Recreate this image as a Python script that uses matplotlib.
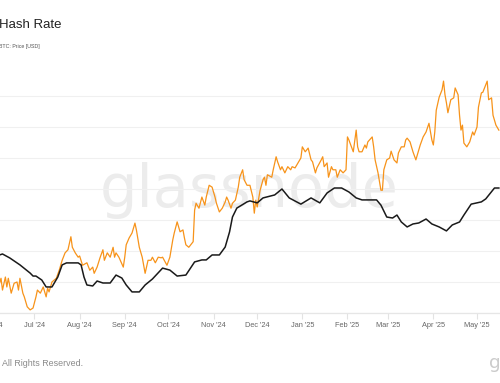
import numpy as np
import pandas as pd
import matplotlib
matplotlib.use('Agg')
import matplotlib.pyplot as plt
import matplotlib.dates as mdates

# days are counted from this date
start = pd.Timestamp('2024-06-07')

# BTC price (black, smoothed)
price_days = [0, 2, 7, 14, 21, 23, 25, 29, 32, 36,
              40, 43, 46, 54, 56, 58, 60, 64, 67, 71,
              76, 80, 84, 87, 91, 96, 100, 105, 112, 117,
              122, 128, 134, 139, 142, 146, 151, 155, 158, 160,
              163, 170, 172, 177, 181, 189, 194, 199, 207, 214,
              220, 225, 230, 235, 240, 245, 249, 259, 262, 266,
              270, 273, 276, 280, 284, 288, 293, 297, 302, 307,
              311, 316, 319, 324, 331, 334, 340, 343]
price_usd = [68400, 68800, 67200, 64400, 61100, 59900, 59900, 58300, 55500, 55500,
             59500, 64400, 65200, 65200, 64400, 59500, 56300, 55900, 57900, 57100,
             57100, 60300, 59100, 56300, 53500, 53500, 56300, 58700, 63100, 62300,
             59900, 60300, 65600, 66400, 66400, 68400, 68400, 71600, 77700, 83700,
             87300, 89800, 90200, 89400, 91400, 92600, 95000, 91400, 88900, 91400,
             89400, 93400, 95400, 95400, 93800, 91400, 90600, 90600, 88500, 83700,
             83300, 84500, 81700, 79700, 80900, 81300, 82900, 80900, 79700, 78100,
             80500, 81700, 84500, 88900, 89800, 91000, 95400, 95400]

# hash rate (orange)
hash_days = [0, 1, 2, 4, 5, 6, 8, 10, 12, 13,
             14, 16, 17, 19, 21, 23, 25, 26, 28, 30,
             32, 33, 34, 36, 39, 41, 43, 45, 47, 49,
             50, 52, 54, 55, 57, 60, 62, 64, 65, 67,
             69, 71, 72, 74, 76, 78, 79, 80, 82, 85,
             86, 87, 89, 91, 93, 94, 96, 98, 100, 102,
             104, 105, 107, 109, 111, 112, 115, 117, 119, 120,
             122, 124, 126, 127, 128, 130, 133, 134, 135, 137,
             139, 141, 142, 144, 146, 148, 149, 151, 153, 155,
             156, 157, 159, 160, 162, 164, 165, 167, 168, 170,
             172,
             174, 175, 176, 177, 179, 181, 182, 183, 184, 187,
             188, 190, 191, 193, 194, 196, 198, 200, 201, 203,
             205, 207, 208, 210, 212, 214, 215, 217, 218, 221,
             222, 223, 225, 226, 228, 229, 231, 232, 234, 236,
             238, 239, 240, 242, 243, 245, 246, 247, 249, 251,
             252, 253, 256, 257, 258, 260, 262, 263, 264, 266,
             268, 269, 271, 273, 274, 276, 278, 279, 280, 282,
             284, 286, 287, 289, 291, 293, 295, 297, 298, 299,
             300, 302, 304, 305, 306, 307, 308, 310, 312, 313,
             315, 316, 317, 318, 319, 321, 323, 325, 326, 328,
             329, 331, 332, 335, 336, 338, 339, 341, 343]
hash_rate = [598, 606, 587, 608, 592, 606, 582, 598, 600, 587,
             606, 582, 576, 560, 555, 558, 576, 587, 582, 592,
             576, 590, 584, 600, 606, 619, 635, 647, 652, 673,
             656, 647, 640, 642, 627, 631, 619, 624, 614, 624,
             639, 652, 635, 647, 640, 656, 640, 647, 640, 624,
             640, 660, 671, 679, 695, 684, 656, 640, 614, 635,
             635, 640, 631, 640, 639, 640, 627, 640, 668, 679,
             697, 681, 684, 671, 660, 656, 665, 716, 727, 719,
             737, 724, 737, 756, 753, 737, 727, 713, 719, 729,
             737, 732, 719, 727, 732, 753, 769, 781, 765, 756,
             756,
             737, 711, 732, 721, 748, 765, 769, 756, 773, 769,
             781, 802, 794, 781, 786, 776, 786, 781, 786, 784,
             792, 800, 818, 810, 816, 797, 794, 776, 784, 797,
             802, 786, 792, 769, 786, 781, 781, 769, 781, 776,
             781, 834, 829, 816, 810, 845, 818, 810, 810, 821,
             816, 826, 834, 818, 797, 776, 748, 748, 781, 797,
             800, 811, 797, 792, 808, 818, 818, 829, 832, 826,
             810, 797, 805, 821, 834, 842, 856, 829, 821, 842,
             877, 898, 910, 924, 902, 889, 873, 894, 897, 913,
             902, 869, 845, 853, 824, 818, 826, 842, 837, 850,
             882, 905, 906, 924, 894, 897, 869, 853, 845]

price_dates = start + pd.to_timedelta(price_days, unit='D')
hash_dates = start + pd.to_timedelta(hash_days, unit='D')

W, H = 500, 383
fig = plt.figure(figsize=(W / 100, H / 100), dpi=100)

# the chart is cropped: the axes run past both sides of the image
ax = fig.add_axes([-50 / W, (H - 313) / H, 600 / W, 238 / H])
ax2 = ax.twinx()

ax.plot(hash_dates, hash_rate, color='#f7931a', lw=0.9, zorder=3)
ax2.plot(price_dates, price_usd, color='#1a1a1a', lw=1.1, zorder=3)

ax.set_xlim(start - pd.Timedelta(days=34.05), start + pd.Timedelta(days=378.15))
ax.set_ylim(550, 550 + 238 * 50 / 31)
ax2.set_ylim(45000, 45000 + 238 * 12500 / 31)
ax.set_yticks(np.arange(550, 901, 50))

ax.grid(axis='y', color='#f0f0f0', lw=0.8)
ax.set_axisbelow(True)
for a in (ax, ax2):
    for s in ('top', 'left', 'right'):
        a.spines[s].set_visible(False)
    a.spines['bottom'].set_color('#e6e6e6')
    a.spines['bottom'].set_linewidth(0.8)
ax.tick_params(axis='y', left=False, labelleft=False)
ax2.tick_params(axis='y', right=False, labelright=False)

ax.xaxis.set_major_locator(mdates.MonthLocator())
ax.xaxis.set_major_formatter(mdates.DateFormatter("%b '%y"))
ax.tick_params(axis='x', length=4, width=0.8, color='#e3e3e3', pad=2.5,
               labelsize=5.3, labelcolor='#666666')
for lbl in ax.get_xticklabels():
    lbl.set_family('Liberation Sans')

# watermark behind the lines
ax.text(100 / W, 1 - 207 / H, 'glassnode', transform=fig.transFigure,
        fontsize=42.5, color='#ececec', va='baseline', ha='left', zorder=0.5)

fig.text(-1 / W, 1 - 28 / H, 'Hash Rate', fontsize=9.5, color='#222222',
         family='Liberation Sans', va='baseline')
fig.text(-1 / W, 1 - 48 / H, 'BTC: Price [USD]', fontsize=3.8, color='#555555',
         family='Liberation Sans', va='baseline')
fig.text(2 / W, 1 - 366 / H, 'All Rights Reserved.', fontsize=6.4, color='#8a8a8a',
         family='Liberation Sans', va='baseline')
fig.text(489 / W, 1 - 368 / H, 'glassnode', fontsize=13.3, color='#cccccc',
         va='baseline')

fig.savefig('out.png', dpi=100)
